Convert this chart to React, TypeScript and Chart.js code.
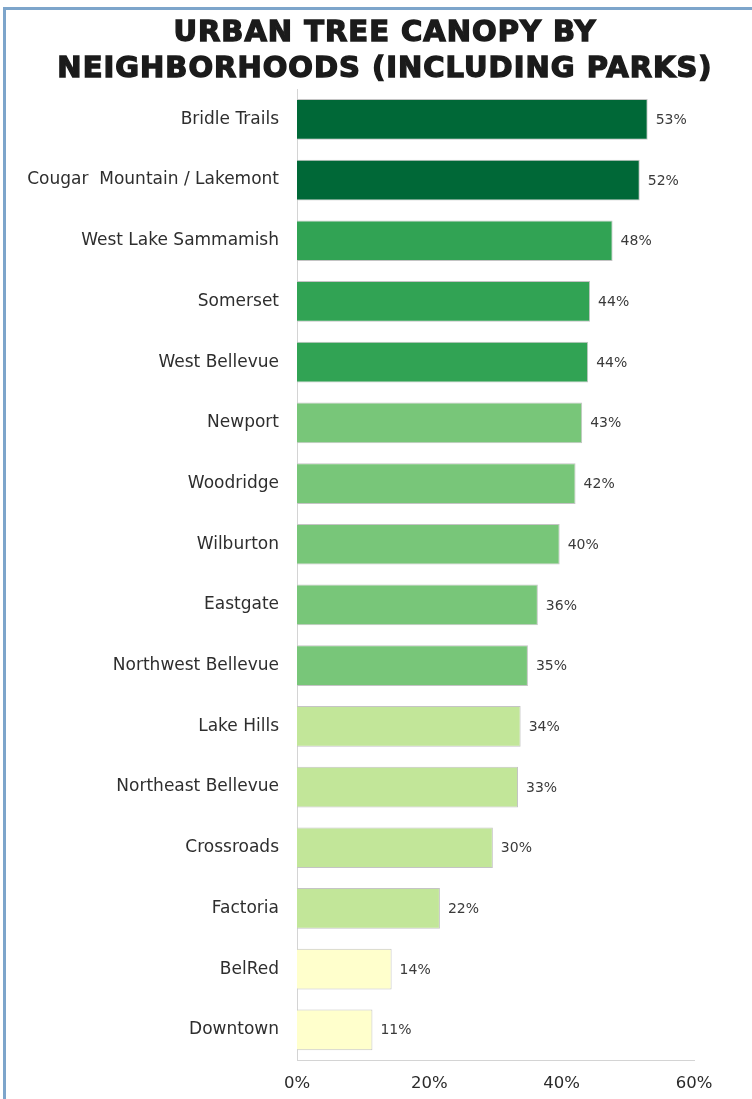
import { useEffect, useRef } from 'react';
import { Chart, ChartConfiguration, Plugin, registerables } from 'chart.js';

Chart.register(...registerables);

// neighborhoods, top to bottom
const neighborhoods: string[] = [
    'Bridle Trails', 'Cougar  Mountain / Lakemont', 'West Lake Sammamish', 'Somerset',
    'West Bellevue', 'Newport', 'Woodridge', 'Wilburton', 'Eastgate', 'Northwest Bellevue',
    'Lake Hills', 'Northeast Bellevue', 'Crossroads', 'Factoria', 'BelRed', 'Downtown',
];

// canopy share in %
const canopy: number[] = [53.0, 51.8, 47.7, 44.3, 44.0, 43.1, 42.1, 39.7, 36.4, 34.9, 33.8, 33.4, 29.6, 21.6, 14.3, 11.4];

// YlGn colour class for each bar
const barColors: string[] = [
    '#006837', '#006837', '#31a354', '#31a354', '#31a354',
    '#78c679', '#78c679', '#78c679', '#78c679', '#78c679',
    '#c2e699', '#c2e699', '#c2e699', '#c2e699',
    '#ffffcc', '#ffffcc',
];

const xTicks: number[] = [0, 20, 40, 60];

const titleLines: string[] = ['URBAN TREE CANOPY BY', 'NEIGHBORHOODS (INCLUDING PARKS)'];

// draws the "53%" style label just past the end of each bar
const valueLabels: Plugin<'bar'> = {
    id: 'valueLabels',
    afterDatasetsDraw(chart) {
        const ctx = chart.ctx;
        const meta = chart.getDatasetMeta(0);
        ctx.save();
        ctx.font = '14px "DejaVu Sans", sans-serif';
        ctx.fillStyle = '#3a3a3a';
        ctx.textAlign = 'left';
        ctx.textBaseline = 'middle';
        meta.data.forEach((bar: any, i: number) => {
            ctx.fillText(Math.round(canopy[i]) + '%', bar.x + 8, bar.y + 1);
        });
        ctx.restore();
    },
};

export default function App() {
    const canvasRef = useRef<HTMLCanvasElement | null>(null);
    const chartRef = useRef<Chart | null>(null);

    useEffect(() => {
        if (!canvasRef.current) return;

        const config: ChartConfiguration<'bar'> = {
            type: 'bar',
            data: {
                labels: neighborhoods,
                datasets: [{
                    data: canopy,
                    backgroundColor: barColors,
                    borderColor: '#c4c4c4',
                    borderWidth: 1,
                    barPercentage: 0.67,
                    categoryPercentage: 1,
                }],
            },
            options: {
                indexAxis: 'y',
                responsive: false,
                animation: false,
                layout: { padding: { left: 0, right: 58, top: 89, bottom: -9 } },
                plugins: {
                    legend: { display: false },
                    tooltip: { enabled: false },
                    title: { display: false },
                },
                scales: {
                    x: {
                        min: 0,
                        max: 60,
                        afterBuildTicks: (axis: any) => {
                            axis.ticks = xTicks.map(v => ({ value: v }));
                        },
                        grid: { display: false, drawTicks: false },
                        border: { display: true, color: '#d4d4d4', width: 1 },
                        ticks: {
                            padding: 14,
                            color: '#2a2a2a',
                            font: { family: '"DejaVu Sans", sans-serif', size: 16.5 },
                            callback: (v: any) => v + '%',
                        },
                    },
                    y: {
                        grid: { display: false, drawTicks: false },
                        border: { display: true, color: '#d4d4d4', width: 1 },
                        afterFit: (axis: any) => { axis.width = 297; },
                        ticks: {
                            padding: 18,
                            color: '#2e2e2e',
                            font: { family: '"DejaVu Sans", sans-serif', size: 17 },
                        },
                    },
                },
            },
            plugins: [valueLabels],
        };

        chartRef.current = new Chart(canvasRef.current, config);

        return () => {
            if (chartRef.current) {
                chartRef.current.destroy();
                chartRef.current = null;
            }
        };
    }, []);

    return (
        <div style={{ position: 'absolute', left: 0, top: 0, width: 752, height: 1099, overflow: 'hidden', background: '#fff' }}>
            <div style={{
                position: 'absolute', left: 3, top: 7, width: 749, height: 1092,
                borderLeft: '3px solid #7da5cb', borderTop: '3px solid #7da5cb', boxSizing: 'border-box',
            }} />
            <canvas ref={canvasRef} width={752} height={1099} style={{ position: 'absolute', left: 0, top: 0 }}></canvas>
            <div style={{
                position: 'absolute', left: 10, top: 13, width: 750, textAlign: 'center',
                fontFamily: '"DejaVu Sans", sans-serif', fontWeight: 'bold', fontSize: 29, lineHeight: '36px',
                letterSpacing: 1, color: '#1b1b1b', WebkitTextStroke: '1.4px #1b1b1b', whiteSpace: 'nowrap',
            }}>
                {titleLines.map(line => <div key={line}>{line}</div>)}
            </div>
        </div>
    );
}
